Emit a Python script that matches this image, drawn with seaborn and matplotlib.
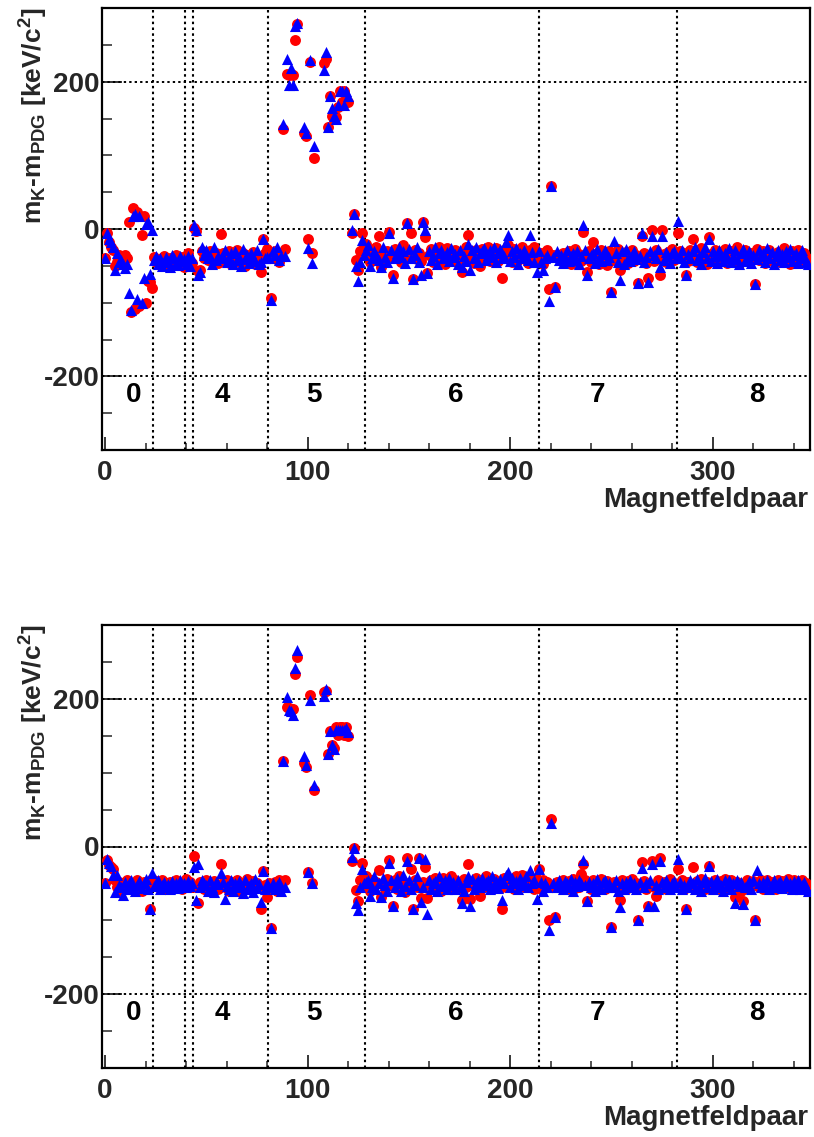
import numpy as np
import pandas as pd
import matplotlib
matplotlib.use("Agg")
import matplotlib.pyplot as plt
from matplotlib.ticker import MultipleLocator, FixedLocator
import seaborn as sns

# ---------------------------------------------------------------------------
# Mass deviation m_K - m_PDG [keV/c^2] per magnet-field pair (index 0..347)
# red circles / blue triangles, upper and lower panel. None = no measurement
# ---------------------------------------------------------------------------
top_red = [
    # run period 0
    -40, -5, -17, -24, -28, -50, -45, -35, -45, -37, -35, -40, 10, -112, 28, -108, 23, -104, -8, 17,
    -100, -71, -72, -80,
    # periods 1-3
    -38, -45, -42, -48, -40, -36, -44, -50, -39, -42, -47, -35, -41, -45, -38, -52, -40, -33, -44, -46,
    # period 4
    2, -3, -57, -55, -30, -40, -35, -42, -30, -45, -38, -33, -46, -7,
    -32, -44, -38, -30, -48, -36, -41, -29, -45, -37, -33, -50, -40, -35, -43, -31, -47, -38, -42,
    -58, -13, -33, -27,
    # period 5
    -35, -93, -40, -30, -38, -45, -32, 136, -27, 210, 209, 210, 209, 256, 278, None, None, 130, 126, -13,
    227, -32, 97, None, None, None, None, 226, 231, 139, 181, 153, 150, 152, 165, 187, 173, 187, 176, 173,
    None, -5, 21, -42, -56, -30, -6, -25,
    # period 6
    -20, -35, -45, -28, -38, -25, -10, -51, -33, -42, -30, -4, -36, -62, -27, -40, -31, -45, -22, -38,
    8, -34, -6, -68, -29, -41, -33, -44, 10, -11, -60, -35, -27, -45, -30, -38, -24, -41, -33, -47,
    -26, -39, -31, -44, -28, -36, -42, -58, -30, -25, -8, -40, -34, -46, -29, -37, -50, -27, -41, -33,
    -24, -44, -31, -38, -26, -43, -35, -66, -29, -40, -22, -36, -45, -27, -34, -42, -30, -25, -39, -33,
    -46, -28, -37, -24, -44,
    # period 7
    -40, -33, -48, -36, -29, -82, 58, -35, -79, -35, -35, -42, -32, -45, -36, -30, -48, -38, -27, -41,
    -34, -44, -4, -37, -58, -30, -45, -18, -39, -33, -47, -28, -40, -35, -49, -30, -85, -38, -44, -27,
    -55, -36, -42, -31, -46, -38, -29, -43, -35, -73, -40, -10, -33, -46, -67, -37, -2, -44, -29, -38,
    -62, -1, -34, -45, -31, -39, -27, -42, -35,
    # period 8
    -6, -30, -40, -33, -62, -44, -28, -14, -38, -45, -32, -26, -41, -36, -48, -11, -34, -42, -29, -37,
    -45, -31, -40, -27, -46, -35, -30, -43, -38, -25, -47, -33, -41, -29, -36, -44, -32, -39, -74, -27,
    -42, -35, -30, -46, -38, -28, -43, -34, -40, -31, -45, -37, -26, -41, -33, -48, -30, -39, -44, -29,
    -36, -42, -32, -38, -45,
]

top_blue = [
    -40, -5, -14, -17, -25, -55, -33, -45, -42, -48, -53, -48, -87, -110, 17, 20, -95, 18, -100, -67,
    7, 10, -61, -2,
    -42, -36, -48, -40, -50, -45, -38, -43, -52, -35, -40, -46, -49, -37, -44, -41, -47, -36, -50, -39,
    5, -2, -62, -58, -25, -35, -28, -40, -36, -48, -25, -42, -37, -40,
    -36, -28, -45, -40, -33, -47, -30, -42, -38, -50, -27, -41, -35, -46, -32, -39, -44, -29, -48,
    -45, -13, -40, -38,
    -40, -97, -30, -35, -25, -42, -37, 142, -37, 231, 196, 218, 196, 275, 280, None, None, 139, 130, -26,
    229, -46, 113, None, None, None, None, 216, 240, 139, 181, 164, 154, 150, 169, 187, 187, 169, 187, 180,
    None, -1, 21, -50, -71, -45, -15, -35,
    -28, -22, -50, -40, -30, -35, -42, -51, -25, -38, -45, -6, -28, -66, -40, -33, -24, -38, -30, -46,
    8, -27, -40, -68, -35, -25, -45, -63, 10, -1, -60, -30, -42, -36, -25, -48, -33, -28, -40, -36,
    -31, -44, -26, -38, -34, -47, -29, -52, -37, -44, -20, -55, -28, -39, -24, -45, -33, -30, -26, -42,
    -35, -29, -38, -24, -45, -33, -27, -40, -36, -18, -8, -44, -30, -38, -26, -47, -33, -40, -28, -36,
    -42, -8, -31, -45, -58,
    -30, -45, -55, -40, -35, -98, 58, -38, -79, -30, -42, -35, -46, -38, -29, -44, -36, -33, -42, -30,
    -47, -37, 5, -28, -63, -40, -35, -32, -46, -27, -39, -44, -34, -29, -42, -38, -85, -16, -33, -45,
    -69, -30, -48, -27, -39, -44, -35, -30, -41, -73, -36, -6, -45, -38, -72, -30, -10, -35, -40, -27,
    -52, -9, -42, -31, -37, -46, -33, -30, -40,
    11, -38, -28, -45, -62, -34, -40, -30, -25, -42, -36, -47, -31, -24, -39, -14, -44, -30, -37, -46,
    -28, -35, -43, -33, -40, -26, -45, -36, -29, -41, -48, -32, -27, -44, -38, -30, -46, -35, -74, -41,
    -28, -37, -33, -45, -26, -39, -31, -47, -36, -29, -42, -34, -45, -30, -38, -27, -43, -35, -32, -46,
    -40, -28, -37, -45, -48,
]

bot_red = [
    -50, -18, -25, -28, -31, -45, -55, -48, -60, -50, -56, -46, -53, -58, -49, -55, -45, -52, -60, -48,
    -54, -50, -85, -44,
    -50, -47, -55, -52, -45, -58, -50, -53, -48, -56, -51, -46, -54, -49, -57, -50, -44, -53, -48, -55,
    -13, -55, -76, -48, -52, -58, -45, -55, -50, -60, -47, -53, -58, -24,
    -50, -55, -46, -60, -52, -48, -57, -45, -53, -62, -49, -55, -44, -58, -51, -47, -56, -50, -54,
    -85, -33, -52, -68,
    -50, -111, -55, -48, -60, -45, -52, 116, -45, 189, 187, 186, 186, 233, 256, None, None, 113, 107, -34,
    205, -49, 77, None, None, None, None, 209, 211, 125, 156, 137, 134, 162, 151, 162, 162, 151, 162, 150,
    None, -19, -2, -59, -74, -45, -22, -40,
    -40, -55, -60, -45, -52, -48, -32, -69, -50, -57, -44, -18, -52, -80, -46, -58, -40, -55, -48, -62,
    -15, -50, -31, -85, -45, -55, -15, -70, -48, -28, -70, -52, -45, -58, -42, -55, -48, -60, -43, -53,
    -47, -56, -40, -52, -45, -58, -50, -73, -44, -55, -24, -71, -48, -53, -42, -57, -67, -46, -55, -40,
    -52, -47, -58, -44, -53, -49, -56, -85, -42, -55, -48, -52, -45, -58, -40, -54, -47, -38, -55, -50,
    -43, -52, -46, -57, -44,
    -30, -58, -45, -52, -48, -100, 37, -55, -95, -48, -50, -55, -45, -52, -58, -47, -53, -44, -56, -49,
    -55, -37, -24, -45, -74, -52, -58, -45, -53, -48, -56, -44, -52, -57, -47, -53, -109, -48, -55, -50,
    -72, -45, -53, -58, -47, -52, -44, -55, -49, -99, -53, -21, -47, -58, -80, -52, -19, -55, -67, -45,
    -16, -53, -48, -57, -50, -44, -55, -49, -52,
    -30, -52, -45, -58, -85, -48, -55, -28, -52, -47, -56, -44, -53, -58, -48, -27, -50, -55, -45, -52,
    -58, -47, -53, -44, -56, -50, -46, -54, -68, -48, -55, -60, -74, -50, -45, -57, -52, -47, -99, -52,
    -55, -45, -58, -50, -46, -55, -48, -53, -58, -45, -52, -47, -55, -50, -44, -56, -52, -46, -55, -49,
    -53, -45, -57, -50, -54,
]

bot_blue = [
    -50, -17, -22, -26, -38, -61, -38, -52, -55, -66, -48, -58, -50, -45, -55, -60, -52, -47, -56, -50,
    -44, -58, -85, -36,
    -54, -50, -46, -57, -52, -48, -55, -51, -58, -47, -53, -50, -56, -45, -52, -49, -55, -47, -53, -50,
    -28, -72, -24, -55, -45, -50, -52, -60, -46, -55, -62, -48, -51, -36,
    -48, -71, -53, -57, -45, -60, -50, -55, -47, -52, -63, -46, -58, -53, -49, -61, -44, -56, -51,
    -75, -33, -58, -50,
    -55, -111, -50, -58, -52, -48, -60, 116, -55, 202, 185, 183, 178, 242, 266, None, None, 122, 110, -34,
    199, -49, 83, None, None, None, None, 204, 213, 125, 156, 137, 132, 158, 158, 158, 158, 158, 160, 155,
    None, -14, -2, -77, -86, -55, -30, -50,
    -48, -45, -67, -55, -40, -58, -50, -69, -42, -52, -60, -22, -46, -80, -55, -42, -50, -60, -38, -53,
    -20, -45, -58, -85, -52, -40, -16, -75, -55, -17, -91, -46, -58, -50, -47, -60, -40, -53, -49, -45,
    -57, -43, -52, -48, -58, -46, -55, -76, -60, -48, -40, -81, -44, -57, -50, -45, -55, -42, -52, -48,
    -45, -58, -40, -53, -47, -56, -44, -72, -50, -38, -35, -55, -42, -50, -47, -58, -43, -52, -48, -40,
    -55, -32, -50, -45, -71,
    -30, -48, -60, -50, -55, -113, 32, -50, -95, -55, -45, -52, -58, -47, -50, -55, -44, -60, -48, -53,
    -45, -50, -18, -52, -74, -48, -55, -50, -60, -44, -53, -58, -48, -45, -55, -50, -109, -55, -45, -60,
    -82, -50, -57, -48, -53, -45, -55, -50, -58, -99, -48, -29, -55, -50, -81, -45, -24, -81, -52, -57,
    -20, -48, -55, -45, -53, -58, -50, -47, -55,
    -17, -48, -58, -52, -85, -55, -45, -50, -58, -44, -53, -60, -48, -42, -55, -27, -47, -58, -50, -44,
    -55, -52, -60, -46, -53, -45, -57, -50, -76, -45, -53, -48, -78, -55, -52, -47, -58, -45, -99, -32,
    -50, -55, -48, -53, -45, -58, -52, -46, -55, -50, -47, -56, -52, -45, -54, -50, -58, -47, -53, -45,
    -57, -52, -48, -55, -60,
]

# run-period boundaries and period names
period_edges = [23.5, 39.5, 43.5, 80.5, 128.5, 214.0, 282.5]
period_names = ["0", "4", "5", "6", "7", "8"]

# ---------------------------------------------------------------------------
sns.set_style("ticks")
plt.rcParams["font.family"] = ["Liberation Sans", "DejaVu Sans"]
plt.rcParams["font.weight"] = "bold"
plt.rcParams["axes.unicode_minus"] = False
plt.rcParams["mathtext.fontset"] = "custom"
plt.rcParams["mathtext.rm"] = "Liberation Sans:bold"
plt.rcParams["mathtext.it"] = "Liberation Sans:bold"
plt.rcParams["mathtext.bf"] = "Liberation Sans:bold"

W, H = 814, 1137
fig = plt.figure(figsize=(W / 100, H / 100), dpi=100)
fig.patch.set_facecolor("white")

panels = [
    (top_red, top_blue, [102 / W, 1 - 450 / H, 708 / W, 442 / H]),
    (bot_red, bot_blue, [102 / W, 1 - 1068 / H, 708 / W, 443 / H]),
]

name_x = [14, 58, 103, 173, 243, 322]
dots = (0, (1.2, 1.6))

for red, blue, rect in panels:
    ax = fig.add_axes(rect)
    n = len(red)
    df = pd.DataFrame({
        "pair": np.arange(n),
        "red": np.array(red, dtype=float),
        "blue": np.array(blue, dtype=float),
    })

    ax.set_xlim(-1.5, 348)
    ax.set_ylim(-300, 300)

    for yv in (-200, 0, 200):
        ax.axhline(yv, color="black", lw=1.4, ls=dots, zorder=1)
    for xv in period_edges:
        ax.axvline(xv, color="black", lw=1.5, ls=dots, zorder=1)

    sns.scatterplot(data=df, x="pair", y="red", marker="o", color="#ff0000",
                    s=62, linewidth=0, ax=ax, zorder=3, legend=False)
    sns.scatterplot(data=df, x="pair", y="blue", marker="^", color="#0000ff",
                    s=64, linewidth=0, ax=ax, zorder=4, legend=False)

    for nm, xv in zip(period_names, name_x):
        ax.text(xv, -226, nm, ha="center", va="center", fontsize=20,
                fontweight="bold", color="black")

    ax.xaxis.set_major_locator(FixedLocator([0, 100, 200, 300]))
    ax.xaxis.set_minor_locator(MultipleLocator(20))
    ax.yaxis.set_major_locator(FixedLocator([-200, 0, 200]))
    ax.yaxis.set_minor_locator(MultipleLocator(50))
    ax.tick_params(axis="x", which="major", direction="in", length=9.5, width=1.3,
                   labelsize=20, pad=7, top=False)
    ax.tick_params(axis="x", which="minor", direction="in", length=4.7, width=1.1, top=False)
    ax.tick_params(axis="y", which="major", direction="in", length=14.5, width=1.3,
                   labelsize=20, pad=2, right=False)
    ax.tick_params(axis="y", which="minor", direction="in", length=7.2, width=1.1, right=False)
    for lab in ax.get_xticklabels() + ax.get_yticklabels():
        lab.set_fontweight("bold")

    for sp in ax.spines.values():
        sp.set_linewidth(1.6)
        sp.set_color("black")

    ax.set_xlabel("")
    ax.set_ylabel("")
    ax.text(0.997, -0.113, "Magnetfeldpaar", transform=ax.transAxes, ha="right",
            va="center", fontsize=20, fontweight="bold")
    ax.text(-68 / 708, 1.0, r"m$_{\mathregular{K}}$-m$_{\mathregular{PDG}}$ [keV/c$^{\mathregular{2}}$]",
            transform=ax.transAxes, rotation=90, ha="center", va="top",
            fontsize=19, fontweight="bold")

fig.savefig("out.png", dpi=100, facecolor="white")
